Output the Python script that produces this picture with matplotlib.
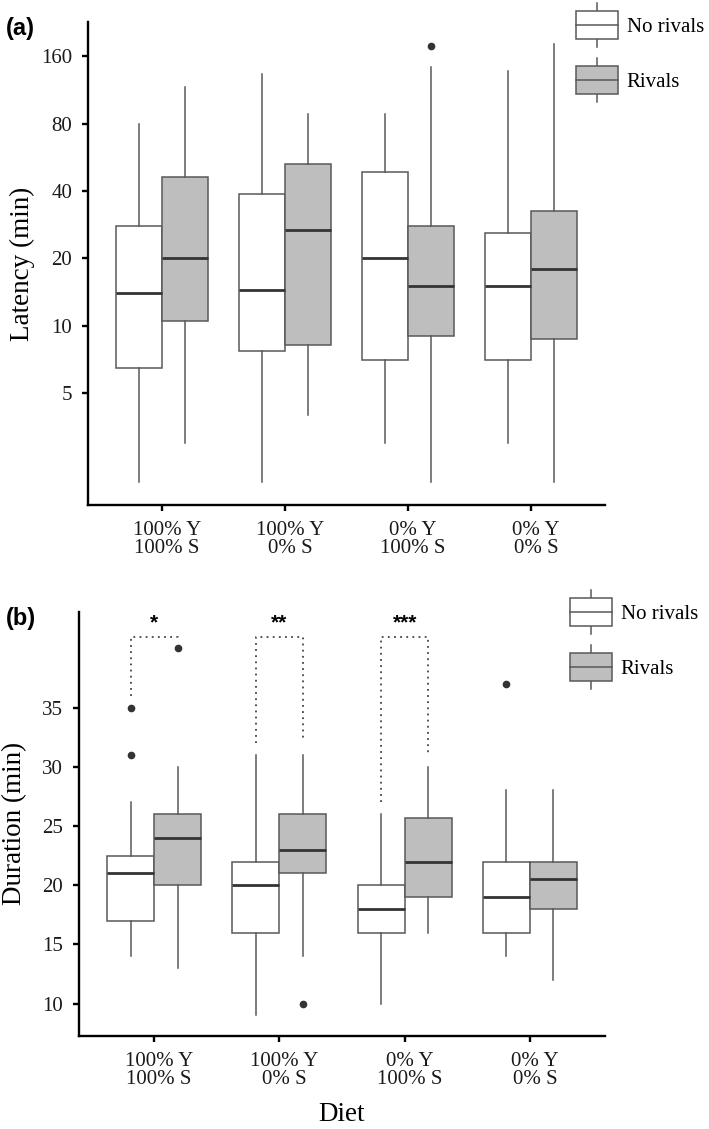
import matplotlib
matplotlib.use('Agg')
import matplotlib.pyplot as plt
from matplotlib.legend_handler import HandlerBase
from matplotlib.patches import Rectangle
from matplotlib.lines import Line2D
from matplotlib.ticker import NullLocator
from matplotlib.transforms import ScaledTranslation

plt.rcParams['font.family'] = ['Liberation Serif', 'DejaVu Serif']

# --- data ---
diets = ["100% Y\n100% S", "100% Y\n0% S", "0% Y\n100% S", "0% Y\n0% S"]
groups = ["No rivals", "Rivals"]

# (a) latency, min (log axis)
lat_nr_lo = [2.0, 2.0, 3.0, 3.0]
lat_nr_q1 = [6.45, 7.7, 7.0, 7.0]
lat_nr_med = [14.0, 14.5, 20.0, 15.0]
lat_nr_q3 = [28.0, 39.0, 48.5, 26.0]
lat_nr_hi = [80.0, 133.0, 88.0, 138.0]
lat_nr_out = [[], [], [], []]

lat_r_lo = [3.0, 4.0, 2.0, 2.0]
lat_r_q1 = [10.5, 8.2, 9.0, 8.7]
lat_r_med = [20.0, 26.8, 15.0, 18.0]
lat_r_q3 = [46.2, 52.7, 27.9, 32.5]
lat_r_hi = [117.0, 88.0, 143.0, 182.0]
lat_r_out = [[], [], [179.0], []]

lat_ticks = [5, 10, 20, 40, 80, 160]

# (b) duration, min
dur_nr_lo = [14, 9, 10, 14]
dur_nr_q1 = [17, 16, 16, 16]
dur_nr_med = [21, 20, 18, 19]
dur_nr_q3 = [22.5, 22, 20, 22]
dur_nr_hi = [27, 31, 26, 28]
dur_nr_out = [[31, 35], [], [], [37]]

dur_r_lo = [13, 14, 16, 12]
dur_r_q1 = [20, 21, 19, 18]
dur_r_med = [24, 23, 22, 20.5]
dur_r_q3 = [26, 26, 25.7, 22]
dur_r_hi = [30, 31, 30, 28]
dur_r_out = [[40], [10], [], []]

dur_ticks = [10, 15, 20, 25, 30, 35]

# significance brackets in (b)
sig_idx = [0, 1, 2]
sig_text = ["*", "**", "***"]
sig_top = 41.0
sig_left_end = [36.0, 32.0, 27.0]
sig_right_end = [40.6, 32.3, 31.0]

# --- style ---
EDGE = '#595959'
MED = '#333333'
FILLS = ['white', '#bebebe']
W = 0.375
SERIF = 15
TITLE = 19.5
SANS = ['Liberation Sans', 'DejaVu Sans']


def make_stats(lo, q1, med, q3, hi, out):
    return [dict(whislo=a, q1=b, med=c, q3=d, whishi=e, fliers=f)
            for a, b, c, d, e, f in zip(lo, q1, med, q3, hi, out)]


def draw_boxes(ax, stats, offset, face):
    pos = [i + 1 + offset for i in range(len(stats))]
    ax.bxp(stats, positions=pos, widths=W, patch_artist=True, showcaps=False,
           boxprops=dict(facecolor=face, edgecolor=EDGE, linewidth=1.1),
           medianprops=dict(color=MED, linewidth=2.0, solid_capstyle='butt'),
           whiskerprops=dict(color=EDGE, linewidth=1.1),
           flierprops=dict(marker='o', markerfacecolor=MED, markeredgecolor=MED,
                           markersize=4.5))


class BoxKey(HandlerBase):
    def create_artists(self, legend, orig_handle, xdescent, ydescent,
                       width, height, fontsize, trans):
        x0, y0 = -xdescent, -ydescent
        ext = 0.3 * height
        cx = x0 + width / 2
        rect = Rectangle((x0, y0), width, height, facecolor=orig_handle.get_facecolor(),
                         edgecolor=EDGE, lw=1.1, transform=trans)
        med = Line2D([x0, x0 + width], [y0 + height / 2] * 2, color=EDGE, lw=1.1,
                     transform=trans)
        top = Line2D([cx, cx], [y0 + height, y0 + height + ext], color=EDGE, lw=1.1,
                     transform=trans)
        bot = Line2D([cx, cx], [y0 - ext, y0], color=EDGE, lw=1.1, transform=trans)
        return [top, bot, rect, med]


def style_axes(ax):
    for s in ['top', 'right']:
        ax.spines[s].set_visible(False)
    for s in ['left', 'bottom']:
        ax.spines[s].set_linewidth(1.7)
        ax.spines[s].set_color('black')
    ax.tick_params(axis='both', length=4.3, width=1.7, color='black',
                   labelsize=SERIF, labelcolor='#1a1a1a')
    ax.tick_params(axis='y', pad=7)
    ax.tick_params(axis='x', pad=7)
    ax.set_xlim(0.4, 4.6)
    ax.set_xticks(range(1, len(diets) + 1))
    ax.set_xticklabels(diets, linespacing=0.95)
    shift = ScaledTranslation(5 / 100, 0, ax.figure.dpi_scale_trans)
    for lab in ax.get_xticklabels():
        lab.set_transform(lab.get_transform() + shift)


def add_legend(ax, x_px, y_px):
    handles = [Rectangle((0, 0), 1, 1, facecolor=f) for f in FILLS]
    ax.legend(handles, groups, loc='upper left',
              bbox_to_anchor=(x_px / 709, 1 - y_px / 1129),
              bbox_transform=ax.figure.transFigure, frameon=False,
              borderpad=0, borderaxespad=0, handlelength=2.0, handleheight=1.69,
              handletextpad=0.43, labelspacing=1.3, fontsize=SERIF,
              handler_map={Rectangle: BoxKey()})


fig = plt.figure(figsize=(7.09, 11.29), dpi=100)
ax1 = fig.add_axes([0.1241, 0.5527, 0.7292, 0.4278])
ax2 = fig.add_axes([0.1114, 0.0824, 0.7419, 0.3758])

# (a)
draw_boxes(ax1, make_stats(lat_nr_lo, lat_nr_q1, lat_nr_med, lat_nr_q3, lat_nr_hi, lat_nr_out),
           -W / 2, FILLS[0])
draw_boxes(ax1, make_stats(lat_r_lo, lat_r_q1, lat_r_med, lat_r_q3, lat_r_hi, lat_r_out),
           W / 2, FILLS[1])
ax1.set_yscale('log')
ax1.set_ylim(1.58, 228)
ax1.set_yticks(lat_ticks)
ax1.set_yticklabels([str(t) for t in lat_ticks])
ax1.yaxis.set_minor_locator(NullLocator())
style_axes(ax1)
ax1.set_ylabel('Latency (min)', fontsize=TITLE)
ax1.yaxis.set_label_coords(-0.1025, 0.5)
add_legend(ax1, 576, 11)

# (b)
draw_boxes(ax2, make_stats(dur_nr_lo, dur_nr_q1, dur_nr_med, dur_nr_q3, dur_nr_hi, dur_nr_out),
           -W / 2, FILLS[0])
draw_boxes(ax2, make_stats(dur_r_lo, dur_r_q1, dur_r_med, dur_r_q3, dur_r_hi, dur_r_out),
           W / 2, FILLS[1])
ax2.set_ylim(7.27, 43.1)
ax2.set_yticks(dur_ticks)
ax2.set_yticklabels([str(t) for t in dur_ticks])
style_axes(ax2)
ax2.set_ylabel('Duration (min)', fontsize=TITLE)
ax2.yaxis.set_label_coords(-0.099, 0.5)
ax2.set_xlabel('Diet', fontsize=TITLE)
ax2.xaxis.set_label_coords(0.5, -0.155)
add_legend(ax2, 570, 598)

for i, txt, le, re in zip(sig_idx, sig_text, sig_left_end, sig_right_end):
    xl, xr = i + 1 - W / 2, i + 1 + W / 2
    ax2.plot([xl, xl, xr, xr], [le, sig_top, sig_top, re], color='#444444', lw=1.3,
             ls=(0, (1, 2.4)))
    ax2.text(i + 1, sig_top + 0.35, txt, ha='center', va='bottom', fontsize=15,
             fontweight='bold', family=SANS)

fig.text(6 / 709, 1 - 29 / 1129, '(a)', ha='left', va='center', fontsize=17,
         fontweight='bold', family=SANS)
fig.text(6 / 709, 1 - 618 / 1129, '(b)', ha='left', va='center', fontsize=17,
         fontweight='bold', family=SANS)

fig.savefig('out.png', dpi=100)
